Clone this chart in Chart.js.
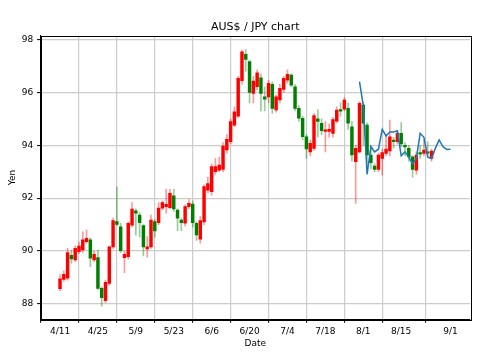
<!DOCTYPE html>
<html>
<head>
<meta charset="utf-8">
<script src="https://cdn.jsdelivr.net/npm/chart.js@4.4.0/dist/chart.umd.min.js"></script>
<style>
	body { margin: 0; background: #fff; }
	#wrap { width: 500px; height: 360px; }
</style>
</head>
<body>
<div id="wrap"><canvas id="candle-chartcanvas" width="500" height="360"></canvas></div>
<script>
// x axis is a trading-day index, 4/11 = 0
var tickPos = [0, 10, 20, 30, 40, 50, 60, 70, 80, 90, 103];
var tickLabels = ['4/11', '4/25', '5/9', '5/23', '6/6', '6/20', '7/4', '7/18', '8/1', '8/15', '9/1'];
var yTicks = [88, 90, 92, 94, 96, 98];

var opens = [88.58, 88.93, 88.97, 89.84, 89.66, 89.98, 90.04, 90.35, 90.42, 89.66,
	89.75, 88.59, 88.12, 88.78, 90.16, 91.11, 90.92, 89.75, 89.79, 90.98,
	91.52, 91.36, 90.96, 90.08, 90.16, 91.11, 91.07, 91.62, 91.68, 91.64,
	92.09, 91.55, 91.17, 91.05, 91.68, 91.78, 91.05, 90.45, 91.10, 92.30,
	92.24, 93.00, 93.06, 93.09, 93.82, 94.13, 94.76, 95.10, 96.44, 97.44,
	97.16, 95.96, 96.21, 96.55, 95.83, 95.83, 96.30, 95.33, 95.71, 96.11,
	96.46, 96.65, 96.21, 95.39, 95.02, 94.32, 93.75, 93.88, 95.00, 94.83,
	94.52, 94.52, 94.45, 94.91, 95.35, 95.36, 95.39, 94.70, 93.38, 93.75,
	95.52, 94.76, 93.63, 93.21, 93.09, 93.50, 93.69, 93.78, 94.19, 94.13,
	94.45, 94.00, 93.88, 93.56, 93.06, 93.72, 93.69, 93.75, 93.50];
var highs = [89.10, 89.25, 90.10, 90.04, 90.20, 90.35, 90.73, 90.80, 90.50, 90.00,
	90.04, 88.65, 88.90, 90.20, 91.25, 92.43, 91.05, 90.00, 91.10, 91.83,
	91.60, 91.45, 91.00, 90.55, 91.36, 91.20, 91.83, 91.90, 92.33, 92.33,
	92.33, 91.60, 91.25, 91.75, 91.95, 91.90, 91.10, 91.30, 92.50, 92.80,
	93.30, 93.50, 93.55, 94.10, 94.40, 95.00, 95.45, 96.60, 97.60, 97.62,
	97.20, 96.60, 96.85, 96.70, 96.20, 96.45, 96.40, 95.90, 96.30, 96.60,
	96.85, 96.70, 96.30, 95.50, 95.10, 94.40, 94.20, 95.20, 95.35, 95.00,
	94.90, 94.80, 95.05, 95.45, 95.60, 95.80, 95.60, 94.90, 94.00, 95.65,
	95.60, 94.85, 94.00, 93.30, 93.70, 93.85, 94.40, 94.95, 94.30, 94.50,
	94.86, 94.10, 94.00, 93.60, 93.75, 94.00, 94.20, 94.13, 93.85];
var lows = [88.50, 88.85, 88.90, 89.54, 89.60, 89.90, 89.95, 90.30, 89.41, 89.60,
	88.55, 87.92, 88.05, 88.70, 90.10, 90.95, 89.95, 89.18, 89.70, 90.90,
	90.60, 90.52, 89.82, 89.77, 90.10, 90.52, 91.00, 91.55, 91.43, 91.60,
	91.50, 90.77, 90.77, 90.95, 91.60, 90.90, 90.40, 90.30, 91.00, 92.20,
	92.10, 92.90, 93.00, 93.00, 93.70, 94.05, 94.70, 95.05, 96.30, 96.80,
	95.60, 95.60, 96.10, 95.30, 95.30, 95.60, 95.20, 95.25, 95.60, 96.00,
	96.35, 96.20, 95.30, 94.90, 94.20, 93.50, 93.60, 93.80, 94.30, 94.40,
	93.75, 94.30, 94.30, 94.85, 95.10, 95.30, 94.60, 93.40, 91.80, 93.70,
	94.00, 93.30, 93.10, 93.00, 93.00, 92.87, 93.60, 93.60, 93.90, 94.05,
	93.95, 93.60, 93.40, 92.79, 92.90, 93.50, 93.60, 93.60, 93.40];
var closes = [88.95, 89.12, 89.94, 89.70, 90.10, 90.19, 90.42, 90.48, 89.73, 89.88,
	88.59, 88.24, 88.82, 90.16, 91.15, 91.01, 90.01, 89.88, 91.05, 91.59,
	91.43, 91.07, 90.16, 90.16, 91.17, 90.76, 91.62, 91.83, 91.77, 92.18,
	91.59, 91.24, 91.07, 91.68, 91.80, 91.07, 90.61, 91.15, 92.44, 92.55,
	93.19, 93.19, 93.25, 93.97, 94.22, 94.89, 95.26, 96.53, 97.53, 97.24,
	96.00, 96.42, 96.74, 95.96, 95.74, 96.34, 95.39, 95.83, 96.15, 96.53,
	96.68, 96.27, 95.39, 95.02, 94.32, 93.86, 94.07, 95.12, 94.90, 94.55,
	94.58, 94.60, 94.97, 95.33, 95.29, 95.71, 94.83, 93.63, 93.88, 95.58,
	94.83, 93.63, 93.34, 93.09, 93.63, 93.72, 93.85, 94.32, 94.13, 94.45,
	94.05, 93.94, 93.56, 93.09, 93.63, 93.66, 93.82, 93.70, 93.78];

// blue line, starts at index 79 and runs to 9/1
var lineStart = 79;
var lineValues = [96.40, 95.50, 92.90, 93.95, 93.75, 93.85, 94.60, 94.35, 94.50, 94.50,
	94.55, 93.60, 93.75, 93.55, 93.30, 93.50, 94.45, 94.30, 93.55, 93.50,
	93.88, 94.20, 93.95, 93.84, 93.85];

var bodies = [], wicks = [], bodyColors = [], wickColors = [];
for (var i = 0; i < opens.length; i++) {
	var up = closes[i] >= opens[i];
	bodies.push({x: i, y: [opens[i], closes[i]]});
	wicks.push({x: i, y: [lows[i], highs[i]]});
	bodyColors.push(up ? '#ff0000' : '#008000');
	wickColors.push(up ? 'rgba(255,0,0,0.4)' : 'rgba(0,128,0,0.4)');
}
var linePts = [];
for (var k = 0; k < lineValues.length; k++) {
	linePts.push({x: lineStart + k, y: lineValues[k]});
}

var font9 = {family: 'DejaVu Sans', size: 9};

// matplotlib style box round the plot
var framePlugin = {
	id: 'frame',
	afterDraw: function(chart) {
		var a = chart.chartArea, c = chart.ctx;
		c.save();
		c.strokeStyle = '#000';
		c.lineWidth = 1;
		c.strokeRect(Math.round(a.left) + 0.5, Math.round(a.top) + 0.5, Math.round(a.right - a.left), Math.round(a.bottom - a.top));
		c.restore();
	}
};

var ctx = document.getElementById('candle-chartcanvas');
var chart = new Chart(ctx, {
	type: 'bar',
	data: {
		datasets: [
			{type: 'line', data: linePts, borderColor: '#1f77b4', borderWidth: 1.5, pointRadius: 0, fill: false, tension: 0, order: 0},
			{data: bodies, backgroundColor: bodyColors, barThickness: 2.8, grouped: false, order: 1},
			{data: wicks, backgroundColor: wickColors, barThickness: 1, grouped: false, order: 2}
		]
	},
	options: {
		responsive: false,
		animation: false,
		devicePixelRatio: 1,
		layout: {padding: {left: 0, right: 30, top: 0, bottom: 0}},
		plugins: {
			legend: {display: false},
			tooltip: {enabled: false},
			title: {
				display: true,
				fullSize: false,
				text: 'AUS$ / JPY chart',
				color: '#000',
				font: {family: 'DejaVu Sans', size: 11, weight: 'normal'},
				padding: {top: 21, bottom: 1.5}
			}
		},
		scales: {
			x: {
				type: 'linear',
				min: -5.15,
				max: 108.15,
				offset: false,
				afterBuildTicks: function(s) {
					s.ticks = tickPos.map(function(v) { return {value: v}; });
				},
				afterFit: function(s) { s.height = 40.7; },
				ticks: {
					autoSkip: false, maxRotation: 0, padding: 3.6, color: '#000', font: font9,
					callback: function(v, idx) { return tickLabels[idx]; }
				},
				grid: {color: '#cccccc', lineWidth: 1.2, tickLength: 3.5, tickColor: '#000', tickWidth: 1},
				border: {color: '#000', width: 1},
				title: {display: true, text: 'Date', color: '#000', font: font9, padding: {top: 0, bottom: 11}}
			},
			y: {
				min: 87.42,
				max: 98.14,
				afterBuildTicks: function(s) {
					s.ticks = yTicks.map(function(v) { return {value: v}; });
				},
				afterFit: function(s) { s.width = 40.5; },
				ticks: {padding: 3.7, color: '#000', font: font9},
				grid: {color: '#cccccc', lineWidth: 1.2, tickLength: 3.5, tickColor: '#000', tickWidth: 1},
				border: {color: '#000', width: 1},
				title: {display: true, text: 'Yen', color: '#000', font: font9, padding: {top: 7, bottom: 0}}
			}
		}
	},
	plugins: [framePlugin]
});
</script>
</body>
</html>
